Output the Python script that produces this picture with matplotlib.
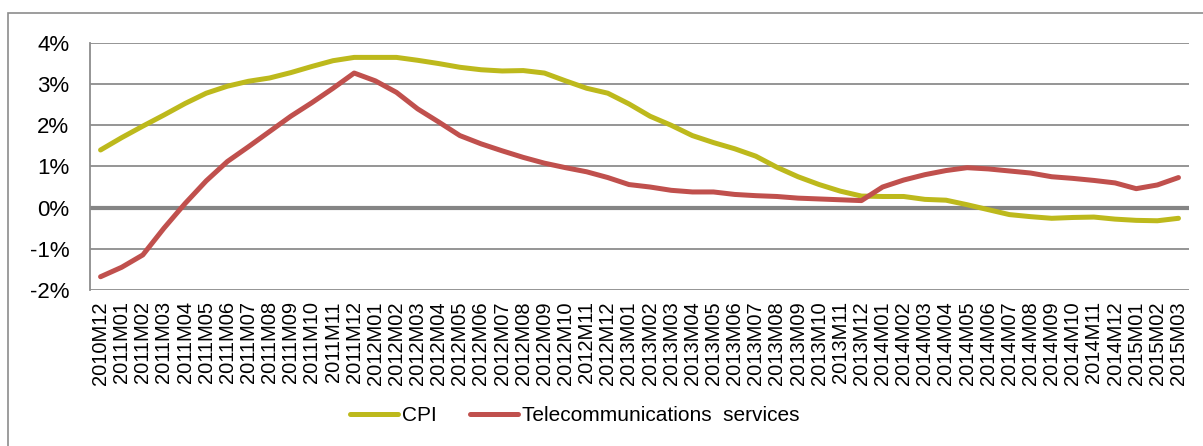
import matplotlib.pyplot as plt
from matplotlib.patches import Rectangle

plt.rcParams['font.family'] = ['Liberation Sans', 'DejaVu Sans']

months = ['2010M12'] + ['%dM%02d' % (y, m) for y in (2011, 2012, 2013, 2014) for m in range(1, 13)] + \
         ['2015M01', '2015M02', '2015M03']

cpi = [1.40, 1.70, 1.98, 2.25, 2.53, 2.78, 2.95, 3.07, 3.15, 3.28, 3.43, 3.57, 3.65,
       3.65, 3.65, 3.58, 3.50, 3.41, 3.35, 3.32, 3.33, 3.27, 3.08, 2.90, 2.78,
       2.52, 2.22, 2.00, 1.75, 1.58, 1.43, 1.25, 0.98, 0.75, 0.56, 0.40, 0.28,
       0.27, 0.27, 0.20, 0.18, 0.07, -0.05, -0.17, -0.22, -0.26, -0.24, -0.23, -0.28,
       -0.31, -0.32, -0.26]
telecom = [-1.68, -1.45, -1.15, -0.50, 0.10, 0.65, 1.12, 1.48, 1.85, 2.22, 2.55, 2.90, 3.27,
           3.08, 2.80, 2.40, 2.08, 1.75, 1.55, 1.38, 1.22, 1.08, 0.97, 0.87, 0.73,
           0.56, 0.50, 0.42, 0.38, 0.38, 0.32, 0.29, 0.27, 0.23, 0.21, 0.19, 0.17,
           0.50, 0.67, 0.80, 0.90, 0.97, 0.94, 0.89, 0.84, 0.75, 0.71, 0.66, 0.60,
           0.46, 0.55, 0.73]

fig = plt.figure(figsize=(12.03, 4.46), dpi=100)
# chart area border (runs off the right and bottom edges)
fig.patches.append(Rectangle((0.0066, -0.02), 1.05, 0.991, transform=fig.transFigure,
                             fill=False, edgecolor='#8c8c8c', linewidth=1.2))
ax = fig.add_axes([0.0748, 0.35, 0.9136, 0.5536])

x = range(len(months))
ax.plot(x, cpi, color='#BDB91C', linewidth=3.6, label='CPI', solid_capstyle='round')
ax.plot(x, telecom, color='#C0504D', linewidth=3.6, label='Telecommunications  services',
        solid_capstyle='round')

ax.set_xlim(-0.5, len(months) - 0.5)
ax.set_ylim(-2, 4)
ax.set_yticks(range(-2, 5))
ax.set_yticklabels(['%d%%' % v for v in range(-2, 5)], fontsize=16)
ax.set_xticks(list(x))
ax.set_xticklabels(months, rotation=90, fontsize=14.5)
ax.tick_params(axis='y', length=0, pad=15)
ax.tick_params(axis='x', length=0, pad=8)
ax.grid(axis='y', color='#8c8c8c', linewidth=1.3)
ax.axhline(0, color='#858585', linewidth=3, zorder=1)
ax.set_axisbelow(True)
for s in ['top', 'right', 'bottom']:
    ax.spines[s].set_visible(False)
ax.spines['left'].set_color('#8c8c8c')
ax.spines['left'].set_linewidth(1.3)

ax.legend(loc='center', bbox_to_anchor=(0.441, -0.51), ncol=2, frameon=False,
          fontsize=15, handlelength=2.3, handletextpad=0.2, columnspacing=1.6)

fig.savefig('out.png', dpi=100)
